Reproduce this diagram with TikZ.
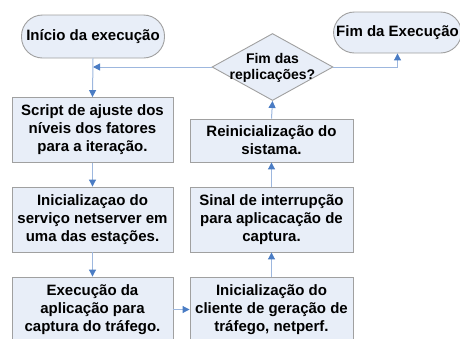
\documentclass[tikz,border=0pt]{standalone}
\usepackage{fontspec}
\setmainfont{Liberation Sans}
\usetikzlibrary{arrows.meta,shapes.geometric}
\definecolor{boxfill}{HTML}{E8EEF8}
\definecolor{boxline}{HTML}{A0A0A0}
\definecolor{linkline}{HTML}{9DB7DE}
\definecolor{tipblue}{HTML}{4A7CC4}
\tikzset{
  every node/.style={font=\fontsize{15}{18}\selectfont\bfseries, align=center, inner sep=0pt},
  procbox/.style={draw=boxline, fill=boxfill, line width=0.9pt, rectangle, minimum width=#1, minimum height=65pt},
  procbox/.default=161pt,
  termbox/.style={draw=boxline, fill=boxfill, line width=0.9pt, rectangle, rounded corners=21pt},
  decbox/.style={draw=boxline, fill=boxfill, line width=0.9pt, diamond, minimum width=121pt, minimum height=67pt},
  link/.style={draw=linkline, line width=1pt, -{Triangle[length=7pt,width=7pt,color=tipblue]}},
  plain/.style={draw=linkline, line width=1pt}
}
\begin{document}
\begin{tikzpicture}[x=1pt,y=-1pt]
\useasboundingbox (0,0) rectangle (460,338);
\begin{scope}
\clip (0,0) rectangle (460,338);
% left column
\node[termbox, minimum width=143pt, minimum height=43pt] (start) at (93,36.5) {Início da execução};
\node[procbox] (b1) at (92.5,130) {Script de ajuste dos\\níveis dos fatores\\para a iteração.};
\node[procbox] (b2) at (92.5,219.5) {Inicializaçao do\\serviço netserver em\\uma das estações.};
\node[procbox] (b3) at (92.5,309.5) {Execução da\\aplicação para\\captura do tráfego.};
% right column
\node[procbox=163pt, minimum height=43pt] (rein) at (271.5,140.5) {Reinicialização do\\sistama.};
\node[procbox=163pt] (sinal) at (271.5,219.5) {Sinal de interrupção\\para aplicacação de\\captura.};
\node[procbox=163pt] (cli) at (271.5,309.5) {Inicialização do\\cliente de geração de\\tráfego, netperf.};
% decision
\node[decbox] (dia) at (272.5,67) {};
\node[font=\fontsize{14}{16}\selectfont\bfseries] (diatext) at (272.5,68) {Fim das\\replicações?};
% end
\node[termbox, minimum width=128pt, minimum height=41pt] (fim) at (397.5,32.5) {Fim da Execução};
% connectors
\coordinate (j) at (start.south |- dia.west);
\draw[link] (dia.west) -- (j);
\draw[link] (start.south) -- (b1.north);
\draw[link] (b1.south) -- (b2.north);
\draw[link] (b2.south) -- (b3.north);
\draw[link] (b3.east) -- (cli.west);
\draw[link] (cli.north) -- (sinal.south);
\draw[link] (sinal.north) -- (rein.south);
\draw[link] (rein.north) -- (dia.south);
\draw[link] (dia.east) -| (fim.south);
\end{scope}
\end{tikzpicture}
\end{document}
